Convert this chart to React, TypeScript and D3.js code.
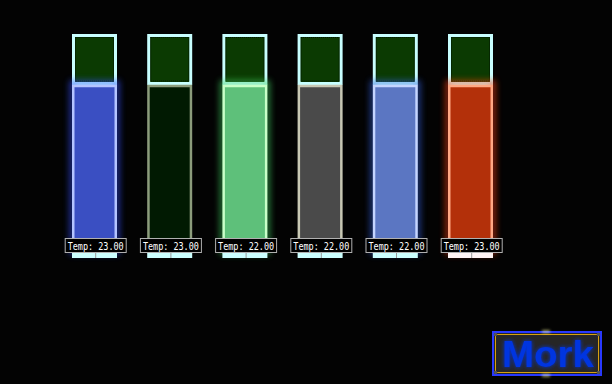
import React from "react";
import * as d3 from "d3";

const sensors = ["S1", "S2", "S3", "S4", "S5", "S6"];
const temps = [23.0, 23.0, 22.0, 22.0, 22.0, 23.0];
const levels = [100, 100, 100, 100, 100, 100];
const fillColors = ["#3a4fc2", "#011a02", "#5ec07a", "#4a4a4a", "#5b76c2", "#b3300a"];
const edgeColors = ["#b4c4ff", "#8c9c7c", "#c8ffc8", "#c8c8b4", "#c4d4ff", "#ffa884"];
const glowColors = ["#3050ff", null, "#40d060", null, "#3060e0", "#ff4010"];
const baseColors = ["#ccffff", "#ccffff", "#ccffff", "#ccffff", "#ccffff", "#fff4f4"];

const W = 612;
const H = 384;

export default function App() {
  const x = d3.scalePoint<string>().domain(sensors).range([94.5, 470.5]);
  const bw = 45;
  const y = d3.scaleLinear().domain([0, 100]).range([252, 85]);
  const capTop = 34;
  const capBottom = 85;

  return (
    <svg
      width={W}
      height={H}
      style={{ position: "fixed", left: 0, top: 0, background: "#030303" }}
    >
      <defs>
        {sensors.map((s, i) =>
          glowColors[i] ? (
            <filter key={s} id={`glow${i}`} x="-50%" y="-20%" width="200%" height="140%">
              <feGaussianBlur stdDeviation="3" />
            </filter>
          ) : null
        )}
        <filter id="textglow" x="-20%" y="-40%" width="140%" height="180%">
          <feGaussianBlur stdDeviation="2" result="b" />
          <feMerge>
            <feMergeNode in="b" />
            <feMergeNode in="SourceGraphic" />
          </feMerge>
        </filter>
        <filter id="dotglow" x="-100%" y="-100%" width="300%" height="300%">
          <feGaussianBlur stdDeviation="1.5" />
        </filter>
      </defs>
      <rect x={0} y={0} width={W} height={H} fill="#030303" />

      {sensors.map((s, i) => {
        const cx = x(s)!;
        const left = cx - bw / 2;
        const barTop = y(levels[i]);
        const barBottom = y(0);
        return (
          <g key={s}>
            <rect
              x={left + 1.5}
              y={capTop + 1.5}
              width={bw - 3}
              height={capBottom - capTop - 3}
              fill="#0b3a02"
              stroke="#c8ffff"
              strokeWidth={3}
            />
            <rect
              x={left + 3.5}
              y={capTop + 3.5}
              width={bw - 7}
              height={capBottom - capTop - 7.5}
              fill="none"
              stroke="#001400"
              strokeWidth={1}
              strokeDasharray="1,1"
            />
            {glowColors[i] && (
              <rect
                x={left}
                y={barTop - 2}
                width={bw}
                height={barBottom - barTop + 2}
                fill="none"
                stroke={glowColors[i]!}
                strokeWidth={5}
                filter={`url(#glow${i})`}
                opacity={0.65}
              />
            )}
            <rect
              x={left + 1.25}
              y={barTop + 1}
              width={bw - 2.5}
              height={barBottom - barTop - 1}
              fill={fillColors[i]}
              stroke={edgeColors[i]}
              strokeWidth={2.5}
            />
            <rect x={left} y={250} width={bw} height={8} fill={baseColors[i]} />
            <line x1={cx + 1.2} x2={cx + 1.2} y1={252} y2={258} stroke="#999" strokeWidth={1} />
            <rect
              x={cx + 1.2 - 30.5}
              y={238.5}
              width={61}
              height={14}
              fill="#000"
              stroke="#b0b0b0"
              strokeWidth={1}
            />
            <text
              x={cx + 1.2}
              y={249.5}
              textAnchor="middle"
              fill="#ffffff"
              fontFamily="DejaVu Sans Mono, monospace"
              fontSize={10.5}
              textLength={56}
              lengthAdjust="spacingAndGlyphs"
            >
              {`Temp: ${d3.format(".2f")(temps[i])}`}
            </text>
          </g>
        );
      })}

      <g>
        <rect x={493} y={332} width={108} height={43} fill="#262626" stroke="#2838ff" strokeWidth={2} />
        <rect x={495.5} y={334.5} width={103} height={38} fill="none" stroke="#d8a010" strokeWidth={1} />
        {[
          [495.5, 334.5],
          [598.5, 334.5],
          [495.5, 372.5],
          [598.5, 372.5],
        ].map(([px, py], k) => (
          <circle key={k} cx={px} cy={py} r={1.8} fill="#555" />
        ))}
        <rect x={542} y={330} width={8} height={3} fill="#ffffa0" filter="url(#dotglow)" opacity={0.6} />
        <rect x={542} y={374} width={8} height={3} fill="#ffffa0" filter="url(#dotglow)" opacity={0.6} />
        <text
          x={502}
          y={367}
          fill="#0634e0"
          fontFamily="Liberation Sans, Arial, sans-serif"
          fontWeight="bold"
          fontSize={37}
          textLength={92}
          lengthAdjust="spacingAndGlyphs"
          filter="url(#textglow)"
        >
          Mork
        </text>
      </g>
    </svg>
  );
}
